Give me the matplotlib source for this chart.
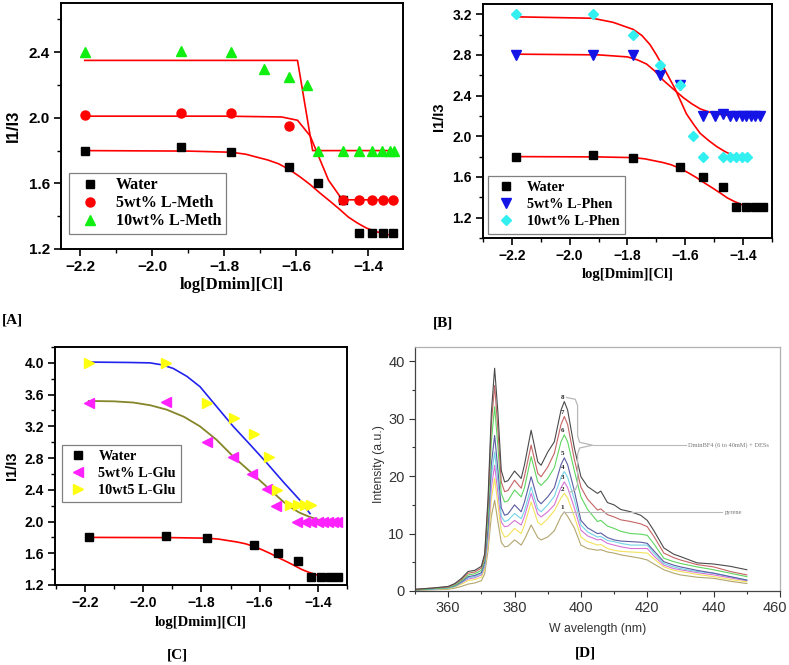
import matplotlib
matplotlib.use("Agg")
import matplotlib.pyplot as plt
import matplotlib.transforms as mtransforms
from matplotlib.ticker import MultipleLocator, FixedLocator

SERIF = "Liberation Serif"
SANS = "Liberation Sans"

# ---------------- data: panels A-C ----------------
water_x = [-2.187, -1.921, -1.780, -1.620, -1.538, -1.469, -1.424, -1.390, -1.358, -1.330]
water_y = [1.80, 1.82, 1.79, 1.70, 1.60, 1.50, 1.30, 1.30, 1.30, 1.30]
water_fit_x = [-2.187, -1.900, -1.780, -1.740, -1.709, -1.679, -1.649, -1.619, -1.589, -1.561, -1.533,
               -1.505, -1.478, -1.455, -1.431, -1.404, -1.376, -1.350, -1.325]
water_fit_y = [1.80, 1.797, 1.79, 1.778, 1.76, 1.743, 1.72, 1.685, 1.64, 1.593, 1.54,
               1.49, 1.44, 1.395, 1.36, 1.327, 1.305, 1.29, 1.28]

meth5_x = [-2.187, -1.921, -1.780, -1.620, -1.469, -1.424, -1.390, -1.358, -1.330]
meth5_y = [2.02, 2.03, 2.03, 1.95, 1.50, 1.50, 1.50, 1.50, 1.50]
meth5_fit_x = [-2.187, -1.800, -1.640, -1.596, -1.561, -1.510, -1.478, -1.460, -1.330]
meth5_fit_y = [2.01, 2.01, 2.005, 1.985, 1.89, 1.62, 1.52, 1.50, 1.50]

meth10_x = [-2.187, -1.921, -1.780, -1.688, -1.620, -1.569, -1.538, -1.469, -1.424, -1.390, -1.360, -1.340, -1.328]
meth10_y = [2.40, 2.41, 2.40, 2.30, 2.25, 2.20, 1.80, 1.80, 1.80, 1.80, 1.80, 1.80, 1.80]
meth10_fit_x = [-2.187, -1.596, -1.554, -1.328]
meth10_fit_y = [2.35, 2.35, 1.80, 1.80]

phen5_x = [-2.187, -1.921, -1.780, -1.688, -1.620, -1.538, -1.498, -1.469, -1.445, -1.424, -1.405, -1.390, -1.372, -1.358, -1.340]
phen5_y = [2.80, 2.80, 2.80, 2.60, 2.50, 2.20, 2.20, 2.22, 2.20, 2.20, 2.20, 2.20, 2.20, 2.20, 2.20]
phen5_fit_x = [-2.187, -1.900, -1.800, -1.765, -1.734, -1.705, -1.676, -1.640, -1.607, -1.578, -1.549,
               -1.520, -1.492, -1.463, -1.434, -1.390, -1.342]
phen5_fit_y = [2.807, 2.80, 2.78, 2.75, 2.71, 2.64, 2.55, 2.46, 2.38, 2.32, 2.27,
               2.24, 2.22, 2.21, 2.20, 2.197, 2.195]

phen10_x = [-2.187, -1.921, -1.780, -1.688, -1.620, -1.573, -1.538, -1.469, -1.445, -1.424, -1.405, -1.388]
phen10_y = [3.20, 3.20, 3.00, 2.70, 2.50, 2.00, 1.80, 1.80, 1.80, 1.80, 1.80, 1.80]
phen10_fit_x = [-2.187, -1.921, -1.850, -1.780, -1.750, -1.722, -1.700, -1.676, -1.656, -1.636, -1.616,
                -1.596, -1.572, -1.549, -1.520, -1.492, -1.463, -1.434, -1.388]
phen10_fit_y = [3.174, 3.16, 3.12, 3.05, 2.99, 2.90, 2.80, 2.68, 2.575, 2.47, 2.345,
                2.22, 2.12, 2.03, 1.96, 1.90, 1.85, 1.81, 1.77]

glu5_x = [-2.187, -1.921, -1.780, -1.690, -1.626, -1.575, -1.543, -1.473, -1.445, -1.422, -1.399, -1.382, -1.364, -1.347, -1.336]
glu5_y = [3.50, 3.51, 3.00, 2.81, 2.60, 2.41, 2.20, 2.00, 2.00, 2.00, 2.00, 2.00, 2.00, 2.00, 2.00]
glu5_fit_x = [-2.187, -2.100, -2.034, -1.975, -1.919, -1.860, -1.805, -1.748, -1.691, -1.633, -1.576,
              -1.519, -1.490, -1.462, -1.433, -1.405, -1.370, -1.342]
glu5_fit_y = [3.52, 3.515, 3.50, 3.465, 3.41, 3.32, 3.20, 3.03, 2.82, 2.63, 2.44,
              2.25, 2.17, 2.11, 2.065, 2.03, 1.995, 1.97]

glu10_x = [-2.187, -1.921, -1.780, -1.689, -1.621, -1.568, -1.539, -1.496, -1.467, -1.445, -1.422]
glu10_y = [4.00, 4.00, 3.50, 3.30, 3.10, 2.81, 2.40, 2.21, 2.21, 2.21, 2.21]
glu10_fit_x = [-2.187, -2.050, -1.977, -1.935, -1.897, -1.850, -1.805, -1.748, -1.691, -1.633, -1.576,
               -1.519, -1.462, -1.427]
glu10_fit_y = [4.01, 4.005, 4.00, 3.975, 3.93, 3.83, 3.70, 3.45, 3.20, 2.97, 2.74,
               2.50, 2.27, 2.10]

# ---------------- data: panel D spectra ----------------
wl = [350, 355, 360, 362, 364, 366, 368, 370, 371, 372, 373, 374, 375, 376, 377, 378, 380, 382, 383, 385,
      387, 388, 390, 392, 394, 395, 396, 398, 400, 402, 405, 406, 408, 410, 412, 415, 418, 420, 422, 425,
      428, 430, 435, 440, 445, 450]
spec8 = [0.3, 0.5, 0.8, 1.3, 2.2, 3.4, 3.6, 4.3, 6.5, 16, 31, 38.8, 31, 21, 19.0, 19.2, 20.9, 19.6, 22.0, 28.0,
         22.5, 21.9, 24.2, 26.0, 31.5, 33.0, 31.5, 25.0, 19.9, 18.2, 17.0, 17.4, 15.4, 15.0, 14.2, 13.8, 13.2, 12.3, 10.5, 7.5,
         6.4, 6.0, 4.9, 4.7, 4.3, 3.7]
spec7 = [0.3, 0.5, 0.7, 1.2, 2.0, 3.1, 3.3, 4.0, 6.0, 15, 29, 35.8, 28, 19, 17.3, 17.5, 19.3, 17.9, 20.0, 25.4,
         20.5, 19.9, 21.6, 24.0, 29.0, 30.4, 29.0, 23.0, 18.1, 16.0, 14.1, 14.3, 13.3, 12.9, 12.4, 12.1, 11.7, 11.2, 9.5, 6.6,
         5.8, 5.4, 4.6, 4.2, 3.4, 2.8]
spec6 = [0.2, 0.4, 0.6, 1.0, 1.8, 2.8, 3.0, 3.6, 5.5, 13, 26, 32.1, 25, 17, 15.5, 15.7, 17.6, 16.4, 18.0, 23.4,
         19.0, 18.4, 19.6, 21.5, 26.0, 27.2, 26.0, 21.0, 16.4, 14.2, 12.1, 12.3, 11.3, 10.9, 10.4, 10.0, 9.9, 9.7, 8.2, 5.7,
         5.1, 4.8, 4.2, 3.7, 3.1, 2.5]
spec5 = [0.2, 0.4, 0.6, 0.9, 1.6, 2.5, 2.7, 3.2, 5.0, 11, 22, 27.1, 21, 14.5, 13.2, 13.4, 15.0, 13.8, 15.5, 19.9,
         15.8, 15.2, 16.4, 18.0, 22.0, 23.2, 22.0, 17.5, 12.3, 11.0, 10.0, 10.1, 9.3, 8.9, 8.7, 8.6, 8.5, 8.3, 7.0, 5.1,
         4.5, 4.2, 3.6, 3.1, 2.5, 1.9]
spec4 = [0.2, 0.3, 0.5, 0.8, 1.5, 2.3, 2.5, 3.0, 4.5, 10, 20, 24.2, 19, 13, 12.1, 12.3, 13.5, 12.6, 14.0, 18.1,
         14.3, 13.8, 15.0, 16.5, 19.8, 20.8, 19.8, 16.0, 11.5, 10.3, 9.4, 9.5, 8.8, 8.6, 8.3, 8.0, 8.0, 8.0, 6.6, 4.8,
         4.2, 3.9, 3.4, 3.1, 2.5, 1.9]
spec3 = [0.2, 0.3, 0.5, 0.8, 1.4, 2.1, 2.3, 2.8, 4.2, 9, 18, 21.9, 17, 12, 11.2, 11.3, 12.3, 11.5, 13.0, 17.0,
         13.4, 12.9, 13.8, 15.0, 18.0, 19.0, 18.0, 14.5, 10.6, 9.6, 8.9, 9.0, 8.3, 8.0, 7.7, 7.4, 7.4, 7.4, 6.1, 4.5,
         3.9, 3.7, 3.2, 2.8, 2.3, 1.8]
spec2 = [0.2, 0.3, 0.4, 0.7, 1.2, 1.8, 2.0, 2.4, 3.8, 8, 16, 19.6, 15, 10.5, 9.4, 9.6, 10.9, 10.0, 11.5, 15.5,
         12.0, 11.5, 12.6, 14.0, 16.2, 17.0, 16.2, 13.0, 9.4, 8.6, 8.0, 8.1, 7.4, 7.1, 6.9, 6.8, 6.7, 6.6, 5.6, 4.2,
         3.6, 3.4, 2.9, 2.5, 2.0, 1.6]
spec1 = [0.1, 0.2, 0.3, 0.5, 0.8, 1.2, 1.4, 1.8, 3.0, 7, 13, 15.8, 12, 8.5, 7.7, 7.8, 8.9, 8.0, 9.0, 11.5,
         9.3, 8.9, 9.4, 10.5, 13.0, 13.8, 13.0, 11.0, 8.0, 7.4, 7.1, 7.2, 6.8, 6.6, 6.3, 6.0, 5.7, 5.4, 4.7, 3.7,
         3.1, 2.8, 2.4, 2.2, 1.7, 1.3]
spectra = [spec1, spec2, spec3, spec4, spec5, spec6, spec7, spec8]
spec_labels = ["1", "2", "3", "4", "5", "6", "7", "8"]
spec_colors = ["#b3a66e", "#f2e35c", "#d674d6", "#74d4e6", "#5c5ca3", "#5fd65f", "#c46464", "#4a4a4a"]
d_xticks = [360, 380, 400, 420, 440, 460]

# ---------------- figure ----------------
fig = plt.figure(figsize=(7.89, 6.65), dpi=100)
W, H = 789.0, 665.0


def ax_at(l, t, r, b):
    return fig.add_axes([l / W, 1 - b / H, (r - l) / W, (b - t) / H])


def style_cmc(ax, xlim, ylim, ymaj, fs_tick, fs_lab):
    ax.set_xlim(*xlim)
    ax.set_ylim(*ylim)
    ax.xaxis.set_major_locator(MultipleLocator(0.2))
    ax.xaxis.set_minor_locator(MultipleLocator(0.1))
    ax.yaxis.set_major_locator(MultipleLocator(ymaj))
    ax.yaxis.set_minor_locator(MultipleLocator(ymaj / 2))
    ax.tick_params(which="major", direction="out", length=5, width=1.2, pad=3, top=False, right=False)
    ax.tick_params(which="minor", direction="out", length=3, width=1.0, top=False, right=False)
    for s in ax.spines.values():
        s.set_linewidth(1.4)
    for lab in ax.get_xticklabels() + ax.get_yticklabels():
        lab.set_fontfamily(SANS)
        lab.set_fontweight("bold")
        lab.set_fontsize(fs_tick)
    ax.set_xlabel("log[Dmim][Cl]", family=SERIF, weight="bold", fontsize=fs_lab)
    ax.set_ylabel("I1/I3", family=SANS, weight="bold", fontsize=fs_lab)


def legend(ax, anchor, fs, bpad, lspace, hlen, htpad):
    leg = ax.legend(loc="lower left", bbox_to_anchor=anchor, borderaxespad=0, frameon=True,
                    fancybox=False, edgecolor="#808080", framealpha=1,
                    prop={"family": SERIF, "weight": "bold", "size": fs},
                    handletextpad=htpad, borderpad=bpad, labelspacing=lspace, handlelength=hlen)
    leg.get_frame().set_linewidth(0.9)


# ---- Panel A ----
axA = ax_at(61, 3, 403, 249)
axA.plot(water_fit_x, water_fit_y, color="red", lw=1.2, zorder=2)
axA.plot(meth5_fit_x, meth5_fit_y, color="red", lw=1.2, zorder=2)
axA.plot(meth10_fit_x, meth10_fit_y, color="red", lw=1.2, zorder=2)
axA.plot(water_x, water_y, "s", color="black", ms=6, ls="none", label="Water", zorder=3)
axA.plot(meth5_x, meth5_y, "o", color="#ff0000", ms=6.5, ls="none", label="5wt% L-Meth", zorder=3)
axA.plot(meth10_x, meth10_y, "^", color="#11ee11", ms=7.5, ls="none", label="10wt% L-Meth", zorder=3)
style_cmc(axA, (-2.253, -1.303), (1.2, 2.7), 0.4, 11, 12)
axA.xaxis.set_label_coords(0.5, -0.115)
axA.yaxis.set_label_coords(-0.118, 0.5)
legend(axA, (0.023, 0.061), 11.5, 0.3, 0.12, 2.0, 0.65)

# ---- Panel B ----
axB = ax_at(483, 4, 772, 238)
axB.plot(water_fit_x, water_fit_y, color="red", lw=1.2, zorder=2)
axB.plot(phen5_fit_x, phen5_fit_y, color="red", lw=1.2, zorder=2)
axB.plot(phen10_fit_x, phen10_fit_y, color="red", lw=1.2, zorder=2)
axB.plot(water_x, water_y, "s", color="black", ms=5.5, ls="none", label="Water", zorder=3)
axB.plot(phen5_x, phen5_y, "v", color="#1414e6", ms=6.5, ls="none", label="5wt% L-Phen", zorder=3)
axB.plot(phen10_x, phen10_y, "D", color="#33f0f0", ms=5.5, ls="none", label="10wt% L-Phen", zorder=3)
style_cmc(axB, (-2.30, -1.30), (1.0, 3.3), 0.4, 10, 10.5)
axB.xaxis.set_label_coords(0.5, -0.13)
axB.yaxis.set_label_coords(-0.128, 0.52)
legend(axB, (0.017, 0.017), 10.3, 0.4, 0.28, 1.7, 0.63)

# ---- Panel C ----
axC = ax_at(55, 347, 347, 585)
axC.plot(water_fit_x, water_fit_y, color="red", lw=1.2, zorder=2)
axC.plot(glu5_fit_x, glu5_fit_y, color="#85852a", lw=1.3, zorder=2)
axC.plot(glu10_fit_x, glu10_fit_y, color="#2222ee", lw=1.2, zorder=2)
axC.plot(water_x, water_y, "s", color="black", ms=5.5, ls="none", label="Water", zorder=3)
axC.plot(glu5_x, glu5_y, "<", color="#ff22ff", ms=7, ls="none", label="5wt% L-Glu", zorder=3)
axC.plot(glu10_x, glu10_y, ">", color="#ffff10", ms=7, ls="none", label="10wt5 L-Glu", zorder=3)
style_cmc(axC, (-2.303, -1.30), (1.2, 4.2), 0.4, 10, 10.5)
axC.xaxis.set_label_coords(0.5, -0.13)
axC.yaxis.set_label_coords(-0.123, 0.5)
legend(axC, (0.024, 0.349), 10.3, 0.35, 0.28, 1.6, 0.6)

# ---- Panel D ----
axD = ax_at(415, 347, 780, 591)
for s, c in zip(spectra, spec_colors):
    axD.plot(wl, s, color=c, lw=0.8)
for s, lab in zip(spectra, spec_labels):
    axD.text(394.5, s[wl.index(395)] + 0.7, lab, family=SERIF, weight="bold", fontsize=5,
             ha="center", va="center", color="#222222")
axD.set_xlim(350, 460)
axD.set_ylim(0, 42.5)
axD.xaxis.set_major_locator(FixedLocator(d_xticks))
axD.xaxis.set_minor_locator(MultipleLocator(10))
axD.yaxis.set_major_locator(MultipleLocator(10))
axD.yaxis.set_minor_locator(MultipleLocator(5))
axD.tick_params(which="major", direction="out", length=4, width=0.8, colors="#333333", labelsize=10.5)
axD.tick_params(which="minor", direction="out", length=2.5, width=0.8, colors="#333333")
axD.spines["left"].set_color("#444444")
axD.spines["bottom"].set_color("#444444")
axD.spines["top"].set_color("#b0b0b0")
axD.spines["right"].set_color("#b0b0b0")
for s in axD.spines.values():
    s.set_linewidth(0.9)
axD.set_xlabel("W avelength (nm)", family=SANS, fontsize=8.8, color="#333333")
axD.set_ylabel("Intensity (a.u.)", family=SANS, fontsize=8.8, color="#333333")
axD.xaxis.set_label_coords(0.5, -0.13)
axD.yaxis.set_label_coords(-0.082, 0.52)

# brace annotation
brace_x = [395.7, 398.3, 399.0, 399.0, 399.6, 403.5, 399.6, 399.0, 399.0, 398.3, 396.6]
brace_y = [33.7, 33.4, 32.3, 27.0, 25.9, 25.4, 24.9, 23.8, 18.6, 17.6, 17.2]
axD.plot(brace_x, brace_y, color="#b8b8b8", lw=0.9)
axD.plot([403.5, 431.8], [25.4, 25.4], color="#b8b8b8", lw=0.8)
axD.text(432.3, 25.4, "DminBF4 (6 to 40mM) + DESs", family=SERIF, fontsize=4.6,
         color="#777777", ha="left", va="center")
axD.plot([394.5, 442.6], [13.7, 13.7], color="#b8b8b8", lw=0.8)
axD.text(443.4, 13.7, "pyrene", family=SERIF, fontsize=4.6, color="#777777", ha="left", va="center")

# panel labels
for txt, x, y in [("[A]", 12, 320), ("[B]", 443, 323), ("[C]", 177, 655), ("[D]", 585, 653)]:
    fig.text(x / W, 1 - y / H, txt, family=SERIF, weight="bold", fontsize=11, ha="center", va="center")

# keep the last wavelength tick label inside the canvas
fig.canvas.draw()
for lab in axD.get_xticklabels():
    lab.set_fontfamily(SANS)
for lab in axD.get_yticklabels():
    lab.set_fontfamily(SANS)
dticks = axD.xaxis.get_major_ticks()
dticks[-1].label1.set_horizontalalignment("right")
dticks[-1].label1.set_transform(dticks[-1].label1.get_transform()
                                + mtransforms.ScaledTranslation(7 / 100, 0, fig.dpi_scale_trans))

fig.savefig("out.png", dpi=100)
